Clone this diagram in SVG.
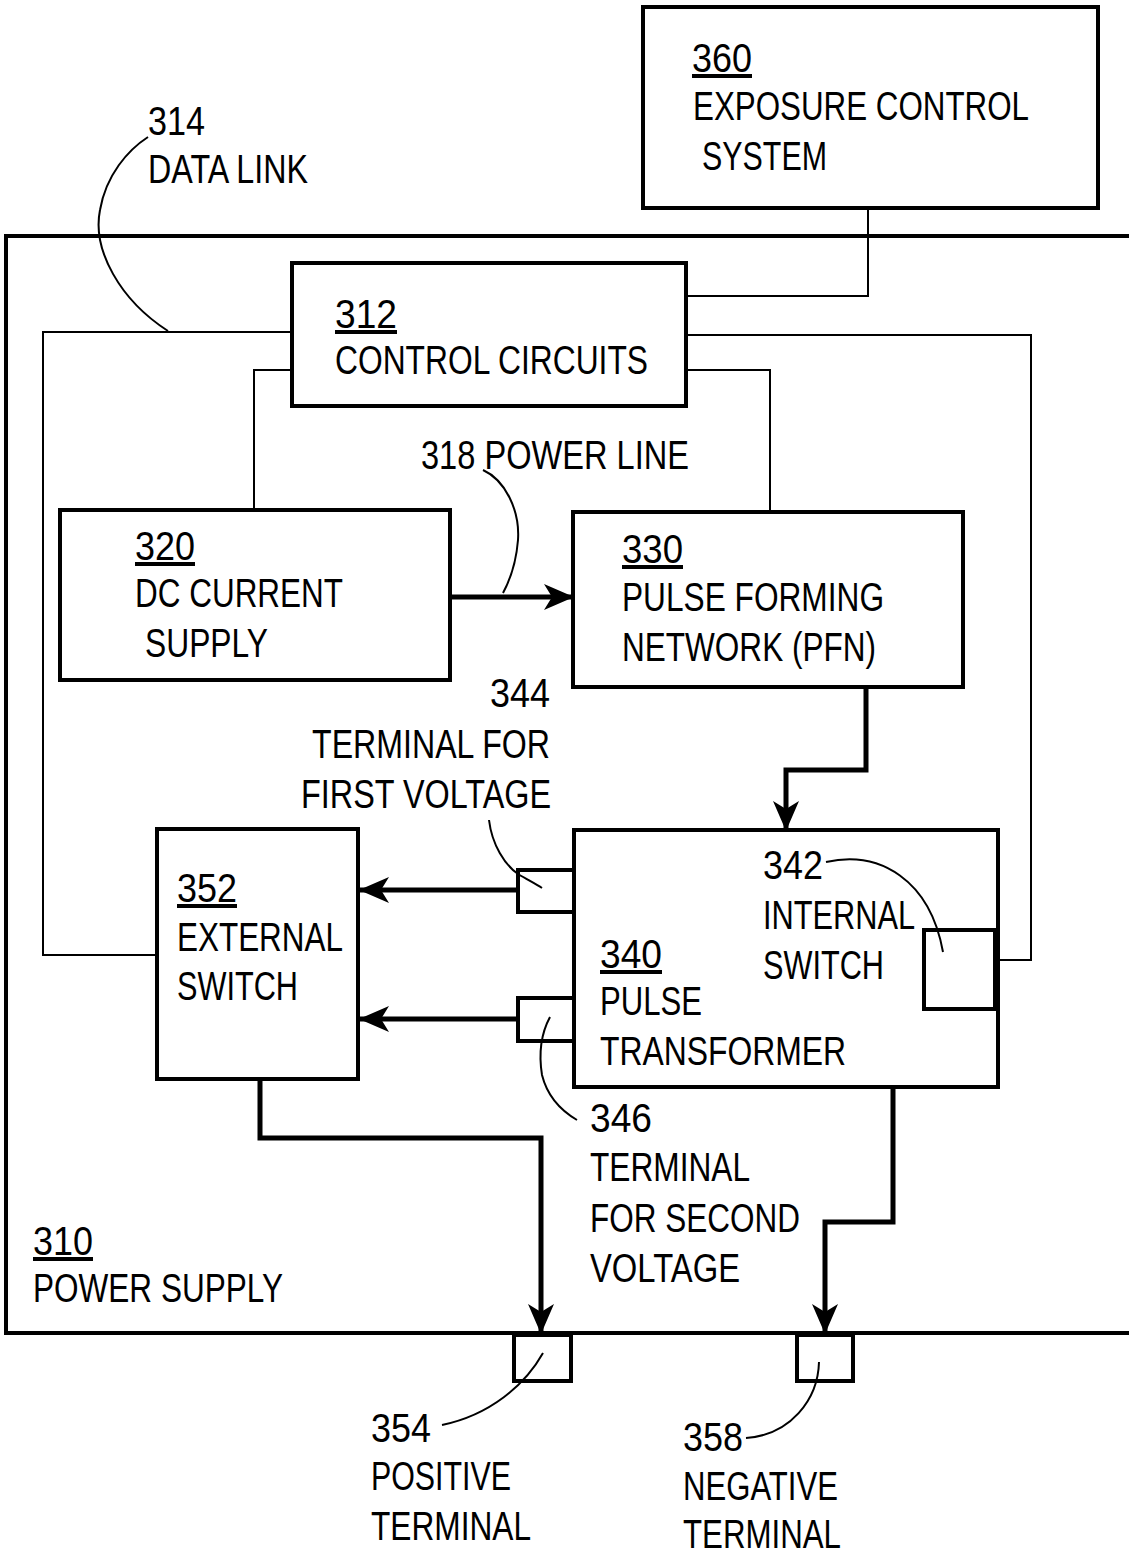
<svg xmlns="http://www.w3.org/2000/svg" width="1129" height="1553" viewBox="0 0 1129 1553">
<defs>
<marker id="ah" viewBox="0 0 30 26" refX="29" refY="13" markerWidth="30" markerHeight="26" markerUnits="userSpaceOnUse" orient="auto">
<path d="M0 0 L30 13 L0 26 L8 13 Z" fill="#000"/>
</marker>
<style>
.box{fill:none;stroke:#000;stroke-width:4}
.thin{fill:none;stroke:#000;stroke-width:2}
.thick{fill:none;stroke:#000;stroke-width:5}
.lead{fill:none;stroke:#000;stroke-width:2}
text{font-family:"Liberation Sans",Arial,sans-serif;font-size:40px;fill:#000}
.u{text-decoration:underline}
</style>
</defs>
<rect width="1129" height="1553" fill="#fff"/>

<g id="node310">
<path class="box" d="M1135 236 H6 V1333 H1135"/>
<text x="33" y="1255" textLength="60" lengthAdjust="spacingAndGlyphs" class="u">310</text>
<text x="33" y="1302" textLength="250" lengthAdjust="spacingAndGlyphs">POWER SUPPLY</text>
</g>

<g id="node360">
<rect class="box" x="643" y="7" width="455" height="201"/>
<text x="692" y="72" textLength="60" lengthAdjust="spacingAndGlyphs" class="u">360</text>
<text x="693" y="120" textLength="336" lengthAdjust="spacingAndGlyphs">EXPOSURE CONTROL</text>
<text x="702" y="170" textLength="125" lengthAdjust="spacingAndGlyphs">SYSTEM</text>
</g>

<g id="node312">
<rect class="box" x="292" y="263" width="394" height="143"/>
<text x="335" y="328" textLength="62" lengthAdjust="spacingAndGlyphs" class="u">312</text>
<text x="335" y="374" textLength="313" lengthAdjust="spacingAndGlyphs">CONTROL CIRCUITS</text>
</g>

<g id="node320">
<rect class="box" x="60" y="510" width="390" height="170"/>
<text x="135" y="560" textLength="60" lengthAdjust="spacingAndGlyphs" class="u">320</text>
<text x="135" y="607" textLength="208" lengthAdjust="spacingAndGlyphs">DC CURRENT</text>
<text x="145" y="657" textLength="123" lengthAdjust="spacingAndGlyphs">SUPPLY</text>
</g>

<g id="node330">
<rect class="box" x="573" y="512" width="390" height="175"/>
<text x="622" y="563" textLength="61" lengthAdjust="spacingAndGlyphs" class="u">330</text>
<text x="622" y="611" textLength="262" lengthAdjust="spacingAndGlyphs">PULSE FORMING</text>
<text x="622" y="661" textLength="254" lengthAdjust="spacingAndGlyphs">NETWORK (PFN)</text>
</g>

<g id="node352">
<rect class="box" x="157" y="829" width="201" height="250"/>
<text x="177" y="902" textLength="60" lengthAdjust="spacingAndGlyphs" class="u">352</text>
<text x="177" y="951" textLength="166" lengthAdjust="spacingAndGlyphs">EXTERNAL</text>
<text x="177" y="1000" textLength="121" lengthAdjust="spacingAndGlyphs">SWITCH</text>
</g>

<g id="node340">
<rect class="box" x="574" y="830" width="424" height="257"/>
<text x="600" y="968" textLength="62" lengthAdjust="spacingAndGlyphs" class="u">340</text>
<text x="600" y="1015" textLength="102" lengthAdjust="spacingAndGlyphs">PULSE</text>
<text x="600" y="1065" textLength="246" lengthAdjust="spacingAndGlyphs">TRANSFORMER</text>
</g>

<g id="node342">
<rect class="box" x="924" y="930" width="71" height="79"/>
<text x="763" y="879" textLength="60" lengthAdjust="spacingAndGlyphs">342</text>
<text x="763" y="929" textLength="152" lengthAdjust="spacingAndGlyphs">INTERNAL</text>
<text x="763" y="979" textLength="121" lengthAdjust="spacingAndGlyphs">SWITCH</text>
</g>

<g id="node344">
<rect class="box" x="518" y="870" width="56" height="42"/>
<text x="490" y="707" textLength="60" lengthAdjust="spacingAndGlyphs">344</text>
<text x="312" y="758" textLength="238" lengthAdjust="spacingAndGlyphs">TERMINAL FOR</text>
<text x="301" y="808" textLength="250" lengthAdjust="spacingAndGlyphs">FIRST VOLTAGE</text>
</g>

<g id="node346">
<rect class="box" x="518" y="998" width="56" height="43"/>
<text x="590" y="1132" textLength="62" lengthAdjust="spacingAndGlyphs">346</text>
<text x="590" y="1181" textLength="160" lengthAdjust="spacingAndGlyphs">TERMINAL</text>
<text x="590" y="1232" textLength="210" lengthAdjust="spacingAndGlyphs">FOR SECOND</text>
<text x="590" y="1282" textLength="150" lengthAdjust="spacingAndGlyphs">VOLTAGE</text>
</g>

<g id="node354">
<rect class="box" x="514" y="1335" width="57" height="46"/>
<text x="371" y="1442" textLength="60" lengthAdjust="spacingAndGlyphs">354</text>
<text x="371" y="1490" textLength="140" lengthAdjust="spacingAndGlyphs">POSITIVE</text>
<text x="371" y="1540" textLength="160" lengthAdjust="spacingAndGlyphs">TERMINAL</text>
</g>

<g id="node358">
<rect class="box" x="797" y="1335" width="56" height="46"/>
<text x="683" y="1451" textLength="60" lengthAdjust="spacingAndGlyphs">358</text>
<text x="683" y="1500" textLength="155" lengthAdjust="spacingAndGlyphs">NEGATIVE</text>
<text x="683" y="1548" textLength="158" lengthAdjust="spacingAndGlyphs">TERMINAL</text>
</g>

<g id="labels">
<text x="148" y="135" textLength="57" lengthAdjust="spacingAndGlyphs">314</text>
<text x="148" y="183" textLength="160" lengthAdjust="spacingAndGlyphs">DATA LINK</text>
<text x="421" y="469" textLength="268" lengthAdjust="spacingAndGlyphs">318 POWER LINE</text>
</g>

<g id="connectors">
<path class="thin" d="M868 208 V296 H686"/>
<path class="thin" d="M292 332 H43 V955 H157"/>
<path class="thin" d="M292 370 H254 V510"/>
<path class="thin" d="M686 370 H770 V512"/>
<path class="thin" d="M686 335 H1031 V960 H995"/>
<path class="thick" d="M450 597 H573" marker-end="url(#ah)"/>
<path class="thick" d="M866 687 V770 H786 V830" marker-end="url(#ah)"/>
<path class="thick" d="M518 890 H360" marker-end="url(#ah)"/>
<path class="thick" d="M518 1019 H360" marker-end="url(#ah)"/>
<path class="thick" d="M260 1079 V1138 H541 V1333" marker-end="url(#ah)"/>
<path class="thick" d="M893 1087 V1222 H825 V1333" marker-end="url(#ah)"/>
<path class="lead" d="M168 331 C120 300, 92 250, 100 210 C106 175, 128 150, 148 137"/>
<path class="lead" d="M483 470 C505 480, 520 510, 518 540 C516 565, 510 580, 503 593"/>
<path class="lead" d="M489 820 C492 845, 505 865, 518 874 C528 880, 536 884, 542 888"/>
<path class="lead" d="M550 1017 C543 1030, 538 1050, 542 1075 C547 1095, 560 1110, 577 1120"/>
<path class="lead" d="M826 862 C880 850, 930 880, 943 952"/>
<path class="lead" d="M442 1425 C490 1415, 525 1385, 543 1353"/>
<path class="lead" d="M746 1438 C790 1435, 818 1400, 819 1362"/>
</g>
</svg>
